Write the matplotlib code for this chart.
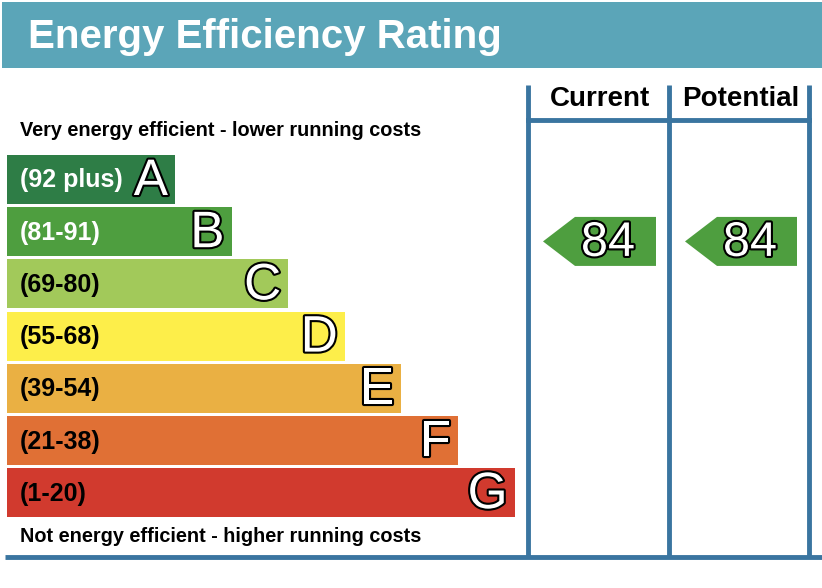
import matplotlib.pyplot as plt
import matplotlib.patheffects as pe
from matplotlib.patches import Rectangle, Polygon

# =====================================================
# Data
# =====================================================
bands = ["A", "B", "C", "D", "E", "F", "G"]
ranges = ["(92 plus)", "(81-91)", "(69-80)", "(55-68)", "(39-54)", "(21-38)", "(1-20)"]
band_low = [92, 81, 69, 55, 39, 21, 1]
band_high = [100, 91, 80, 68, 54, 38, 20]
band_colors = ["#2e7d46", "#4e9e3f", "#a2c95a", "#fdee4a", "#eab043", "#e07035", "#d13a2e"]
range_text_colors = ["white", "white", "black", "black", "black", "black", "black"]

current = 84
potential = 84

title = "Energy Efficiency Rating"
top_note = "Very energy efficient - lower running costs"
bottom_note = "Not energy efficient - higher running costs"

# =====================================================
# Figure in pixel coordinates
# =====================================================
plt.rcParams["font.family"] = ["Liberation Sans", "DejaVu Sans"]
fig = plt.figure(figsize=(8.22, 5.88), dpi=100)
ax = fig.add_axes([0, 0, 1, 1])
ax.set_xlim(0, 822)
ax.set_ylim(588, 0)
ax.axis("off")

line_col = "#3a75a0"
outline = [pe.Stroke(linewidth=3, foreground="black"), pe.Normal()]

# header
ax.add_patch(Rectangle((2, 2), 820, 66, color="#5ba5b8", lw=0))
ax.text(28, 37, title, color="white", fontsize=29, fontweight="bold", va="center")

# columns
col_x = [528, 669, 809]
for x in col_x:
    ax.plot([x, x], [85, 558], color=line_col, lw=3.5, solid_capstyle="butt")
ax.plot([col_x[0], col_x[2]], [120, 120], color=line_col, lw=3.5)
ax.plot([5, 822], [557, 557], color=line_col, lw=3.5, solid_capstyle="butt")
ax.text((col_x[0] + col_x[1]) / 2 + 1, 99, "Current", fontsize=20, fontweight="bold",
        ha="center", va="center")
ax.text((col_x[1] + col_x[2]) / 2 + 2, 99, "Potential", fontsize=20, fontweight="bold",
        ha="center", va="center")

ax.text(20, 131, top_note, fontsize=14.3, fontweight="bold", va="center")
ax.text(20, 536, bottom_note, fontsize=14.3, fontweight="bold", va="center")

# bands
top0, step, h = 155, 52.2, 49
x0, w0, dw = 7, 168, 56.6
for i, b in enumerate(bands):
    y = top0 + i * step
    w = w0 + i * dw
    ax.add_patch(Rectangle((x0, y), w, h, color=band_colors[i], lw=0))
    ax.text(20, y + h / 2 + 1, ranges[i], color=range_text_colors[i], fontsize=18,
            fontweight="bold", va="center")
    ax.text(x0 + w - 7, y + h / 2 + 2, b, color="white", fontsize=37, ha="right",
            va="center", path_effects=outline)


def band_index(v):
    for i in range(len(bands)):
        if band_low[i] <= v <= band_high[i]:
            return i
    return len(bands) - 1


def arrow(v, xl, xr):
    i = band_index(v)
    frac = (band_high[i] - v) / (band_high[i] - band_low[i] + 1)
    yc = top0 + i * step + frac * step + 1
    hh = h / 2
    pts = [(xl, yc), (xl + 32, yc - hh), (xr, yc - hh), (xr, yc + hh), (xl + 32, yc + hh)]
    ax.add_patch(Polygon(pts, closed=True, color=band_colors[i], lw=0))
    ax.text(xl + 65, yc + 2, str(v), color="white", fontsize=35, ha="center",
            va="center", path_effects=outline)


arrow(current, 543, 656)
arrow(potential, 685, 797)

fig.savefig("out.png", dpi=100)
